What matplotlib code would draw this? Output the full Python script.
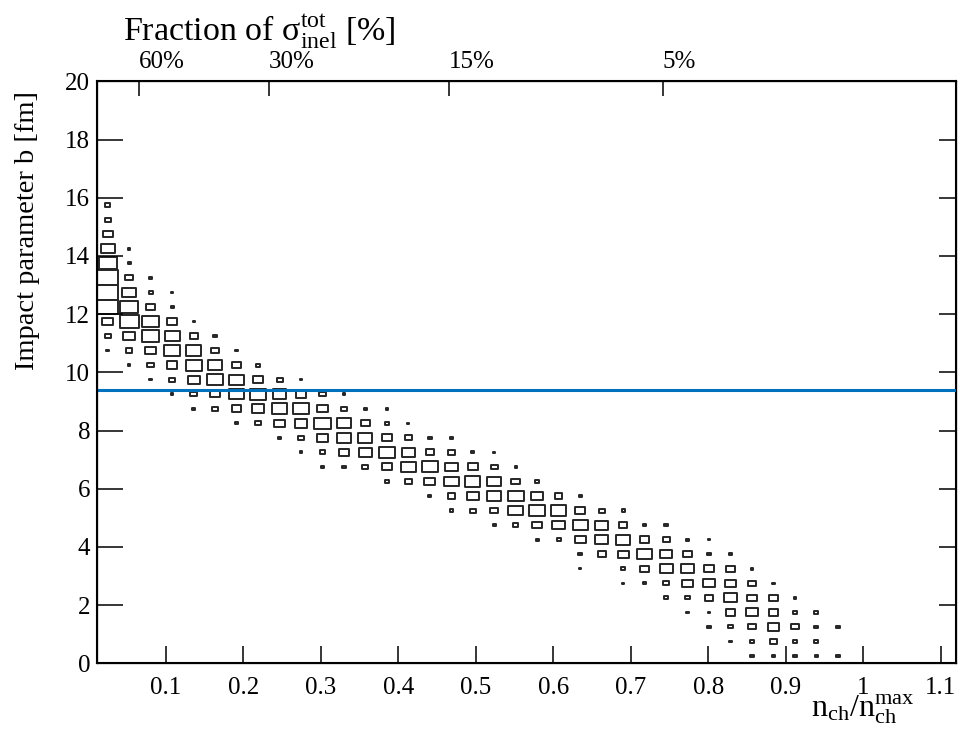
import numpy as np
import matplotlib
matplotlib.use("Agg")
import matplotlib.pyplot as plt
from matplotlib.patches import Rectangle
from matplotlib.collections import PatchCollection

plt.rcParams['font.family'] = ['Liberation Serif', 'DejaVu Serif']
plt.rcParams['mathtext.fontset'] = 'custom'
plt.rcParams['mathtext.rm'] = 'Liberation Serif'
plt.rcParams['mathtext.it'] = 'Liberation Serif:italic'

# histogram binning (40 x 40 grid)
X_MIN, X_MAX, NX = 0.011, 1.12, 40
Y_MIN, Y_MAX, NY = 0.0, 20.0, 40

# impact parameter of each row (bin centre) and first filled column
b_rows = [15.75, 15.25, 14.75, 14.25, 13.75, 13.25, 12.75, 12.25, 11.75, 11.25,
          10.75, 10.25, 9.75, 9.25, 8.75, 8.25, 7.75, 7.25, 6.75, 6.25,
          5.75, 5.25, 4.75, 4.25, 3.75, 3.25, 2.75, 2.25, 1.75, 1.25, 0.75, 0.25]
first_col = [0, 0, 0, 0, 0, 0, 0, 0, 0, 0,
             0, 1, 2, 3, 4, 6, 8, 9, 10, 13,
             15, 16, 18, 20, 22, 22, 24, 26, 27, 28, 29, 30]

# relative box size (fraction of the cell)
box_sizes = [
    [0.25],
    [0.28],
    [0.45],
    [0.65, 0.12],
    [0.85, 0.15],
    [1.0, 0.35, 0.12],
    [1.0, 0.65, 0.18, 0.1],
    [0.95, 0.82, 0.45, 0.15],
    [0.5, 0.88, 0.77, 0.45, 0.1],
    [0.27, 0.54, 0.8, 0.7, 0.38, 0.15],
    [0.12, 0.28, 0.5, 0.72, 0.7, 0.35, 0.12],
    [0.12, 0.3, 0.5, 0.75, 0.65, 0.45, 0.2],
    [0.12, 0.28, 0.55, 0.72, 0.7, 0.45, 0.28, 0.12],
    [0.12, 0.3, 0.45, 0.7, 0.75, 0.65, 0.5, 0.3, 0.12],
    [0.12, 0.25, 0.45, 0.6, 0.72, 0.75, 0.5, 0.3, 0.15, 0.12],
    [0.12, 0.28, 0.5, 0.6, 0.75, 0.68, 0.42, 0.2, 0.1],
    [0.14, 0.3, 0.55, 0.68, 0.65, 0.5, 0.32, 0.17, 0.12],
    [0.12, 0.27, 0.45, 0.62, 0.72, 0.6, 0.4, 0.32, 0.15, 0.1],
    [0.12, 0.15, 0.28, 0.48, 0.68, 0.75, 0.6, 0.47, 0.32, 0.1],
    [0.18, 0.32, 0.5, 0.67, 0.7, 0.65, 0.4, 0.18],
    [0.15, 0.35, 0.55, 0.65, 0.75, 0.55, 0.35, 0.15],
    [0.15, 0.27, 0.38, 0.68, 0.72, 0.7, 0.45, 0.28, 0.15],
    [0.12, 0.25, 0.45, 0.6, 0.7, 0.62, 0.4, 0.15, 0.15],
    [0.15, 0.17, 0.5, 0.63, 0.68, 0.45, 0.32, 0.15, 0.1],
    [0.16, 0.38, 0.5, 0.68, 0.58, 0.42, 0.15, 0.15],
    [0.1, 0.0, 0.2, 0.42, 0.6, 0.6, 0.5, 0.4, 0.12],
    [0.1, 0.15, 0.3, 0.5, 0.55, 0.52, 0.35, 0.1],
    [0.2, 0.2, 0.4, 0.6, 0.45, 0.4, 0.12],
    [0.1, 0.1, 0.45, 0.55, 0.45, 0.2, 0.18],
    [0.15, 0.2, 0.35, 0.5, 0.35, 0.18, 0.15],
    [0.12, 0.2, 0.3, 0.2, 0.18],
    [0.15, 0.15, 0.2, 0.15, 0.15],
]

# centrality cut line and top axis (fraction of cross section)
b_cut = 9.4
frac_pos = [0.0656, 0.2326, 0.4652, 0.7411]
frac_labels = ["60%", "30%", "15%", "5%"]

x_ticks = [0.1, 0.2, 0.3, 0.4, 0.5, 0.6, 0.7, 0.8, 0.9, 1.0, 1.1]
x_tick_labels = ["0.1", "0.2", "0.3", "0.4", "0.5", "0.6", "0.7", "0.8", "0.9", "1", "1.1"]
y_ticks = list(range(0, 21, 2))

fig = plt.figure(figsize=(9.59, 7.34), dpi=100)
ax = fig.add_axes([0.1011, 0.0963, 0.8958, 0.7929])

dx = (X_MAX - X_MIN) / NX
dy = (Y_MAX - Y_MIN) / NY

boxes = []
for b, c0, sizes in zip(b_rows, first_col, box_sizes):
    for i, s in enumerate(sizes):
        if s <= 0:
            continue
        xc = X_MIN + (c0 + i + 0.5) * dx
        w = s * dx
        h = s * dy
        boxes.append(Rectangle((xc - w / 2, b - h / 2), w, h))

pc = PatchCollection(boxes, facecolor='none', edgecolor='#262626', linewidth=1.4)
ax.add_collection(pc)

ax.axhline(b_cut, color='#0072BD', linewidth=2.2, zorder=5)

ax.set_xlim(X_MIN, X_MAX)
ax.set_ylim(Y_MIN, Y_MAX)
ax.set_xticks(x_ticks)
ax.set_xticklabels(x_tick_labels)
ax.set_yticks(y_ticks)
ax.tick_params(axis='x', direction='in', length=12.6, width=1.1, labelsize=18, pad=10)
ax.tick_params(axis='y', direction='in', length=18.7, width=1.1, labelsize=18, pad=5)
for sp in ax.spines.values():
    sp.set_linewidth(1.5)

# right-hand ticks (no labels)
axr = ax.twinx()
axr.set_ylim(Y_MIN, Y_MAX)
axr.set_yticks(y_ticks)
axr.tick_params(axis='y', direction='in', length=12.6, width=1.1, labelright=False)

# top axis with fraction of the inelastic cross section
axt = ax.twiny()
axt.set_xlim(X_MIN, X_MAX)
axt.set_xticks(frac_pos)
axt.set_xticklabels(frac_labels, ha='left')
axt.tick_params(axis='x', direction='in', length=11, width=1.1, labelsize=18, pad=6)

fig.text(123 / 959, 1 - 41 / 734, r'Fraction of $\mathrm{\sigma^{tot}_{inel}}$ [%]',
         fontsize=24.5, ha='left', va='baseline')
fig.text(28 / 959, 1 - 231 / 734, 'Impact parameter b [fm]', fontsize=20.5,
         rotation=90, ha='center', va='center')
fig.text(915 / 959, 1 - 717 / 734, r'$\mathrm{n_{ch}/n_{ch}^{max}}$', fontsize=23,
         ha='right', va='baseline')

fig.savefig("out.png", dpi=100)
